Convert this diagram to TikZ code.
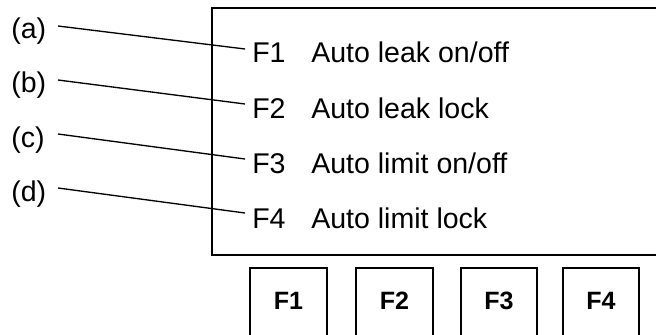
\documentclass[tikz,border=0pt]{standalone}
\usepackage{fontspec}
\setmainfont{Liberation Sans}
\begin{document}
\begin{tikzpicture}[x=0.75pt,y=-0.75pt,
  disp/.style={draw=black,line width=1.5pt},
  keybox/.style={draw=black,line width=1.1pt},
  leader/.style={draw=black,line width=1pt},
  lbl/.style={anchor=base west,inner sep=0pt,font=\fontsize{21.4pt}{24pt}\selectfont},
  keylbl/.style={inner sep=0pt,font=\fontsize{18.8pt}{22pt}\selectfont\bfseries}]
\useasboundingbox (0,0) rectangle (656,335);
\clip (0,0) rectangle (656,335);
% display
\draw[disp] (212,8) rectangle (700,255);
% buttons
\foreach \i/\xa/\xb in {1/250/327,2/356/433,3/461/537,4/563/639}{
  \draw[keybox] (\xa,268) rectangle (\xb,360);
  \node[keylbl] (k\i) at ({(\xa+\xb)/2},301) {F\i};
}
% menu texts
\node[lbl] (f1) at (252,63) {F1};
\node[lbl] (t1) at (311,63) {Auto leak on/off};
\node[lbl] (f2) at (252,118) {F2};
\node[lbl] (t2) at (311,118) {Auto leak lock};
\node[lbl] (f3) at (252,173) {F3};
\node[lbl] (t3) at (311,173) {Auto limit on/off};
\node[lbl] (f4) at (252,228) {F4};
\node[lbl] (t4) at (311,228) {Auto limit lock};
% callout labels
\node[lbl] (la) at (11,39) {(a)};
\node[lbl] (lb) at (11,93) {(b)};
\node[lbl] (lc) at (11,147) {(c)};
\node[lbl] (ld) at (11,201) {(d)};
% leader lines
\coordinate (sa) at (58,26);  \coordinate (ea) at (245,49);
\coordinate (sb) at (58,80);  \coordinate (eb) at (245,104);
\coordinate (sc) at (58,134); \coordinate (ec) at (245,159);
\coordinate (sd) at (58,188); \coordinate (ed) at (245,213);
\draw[leader] (sa) -- (ea);
\draw[leader] (sb) -- (eb);
\draw[leader] (sc) -- (ec);
\draw[leader] (sd) -- (ed);
\end{tikzpicture}
\end{document}
